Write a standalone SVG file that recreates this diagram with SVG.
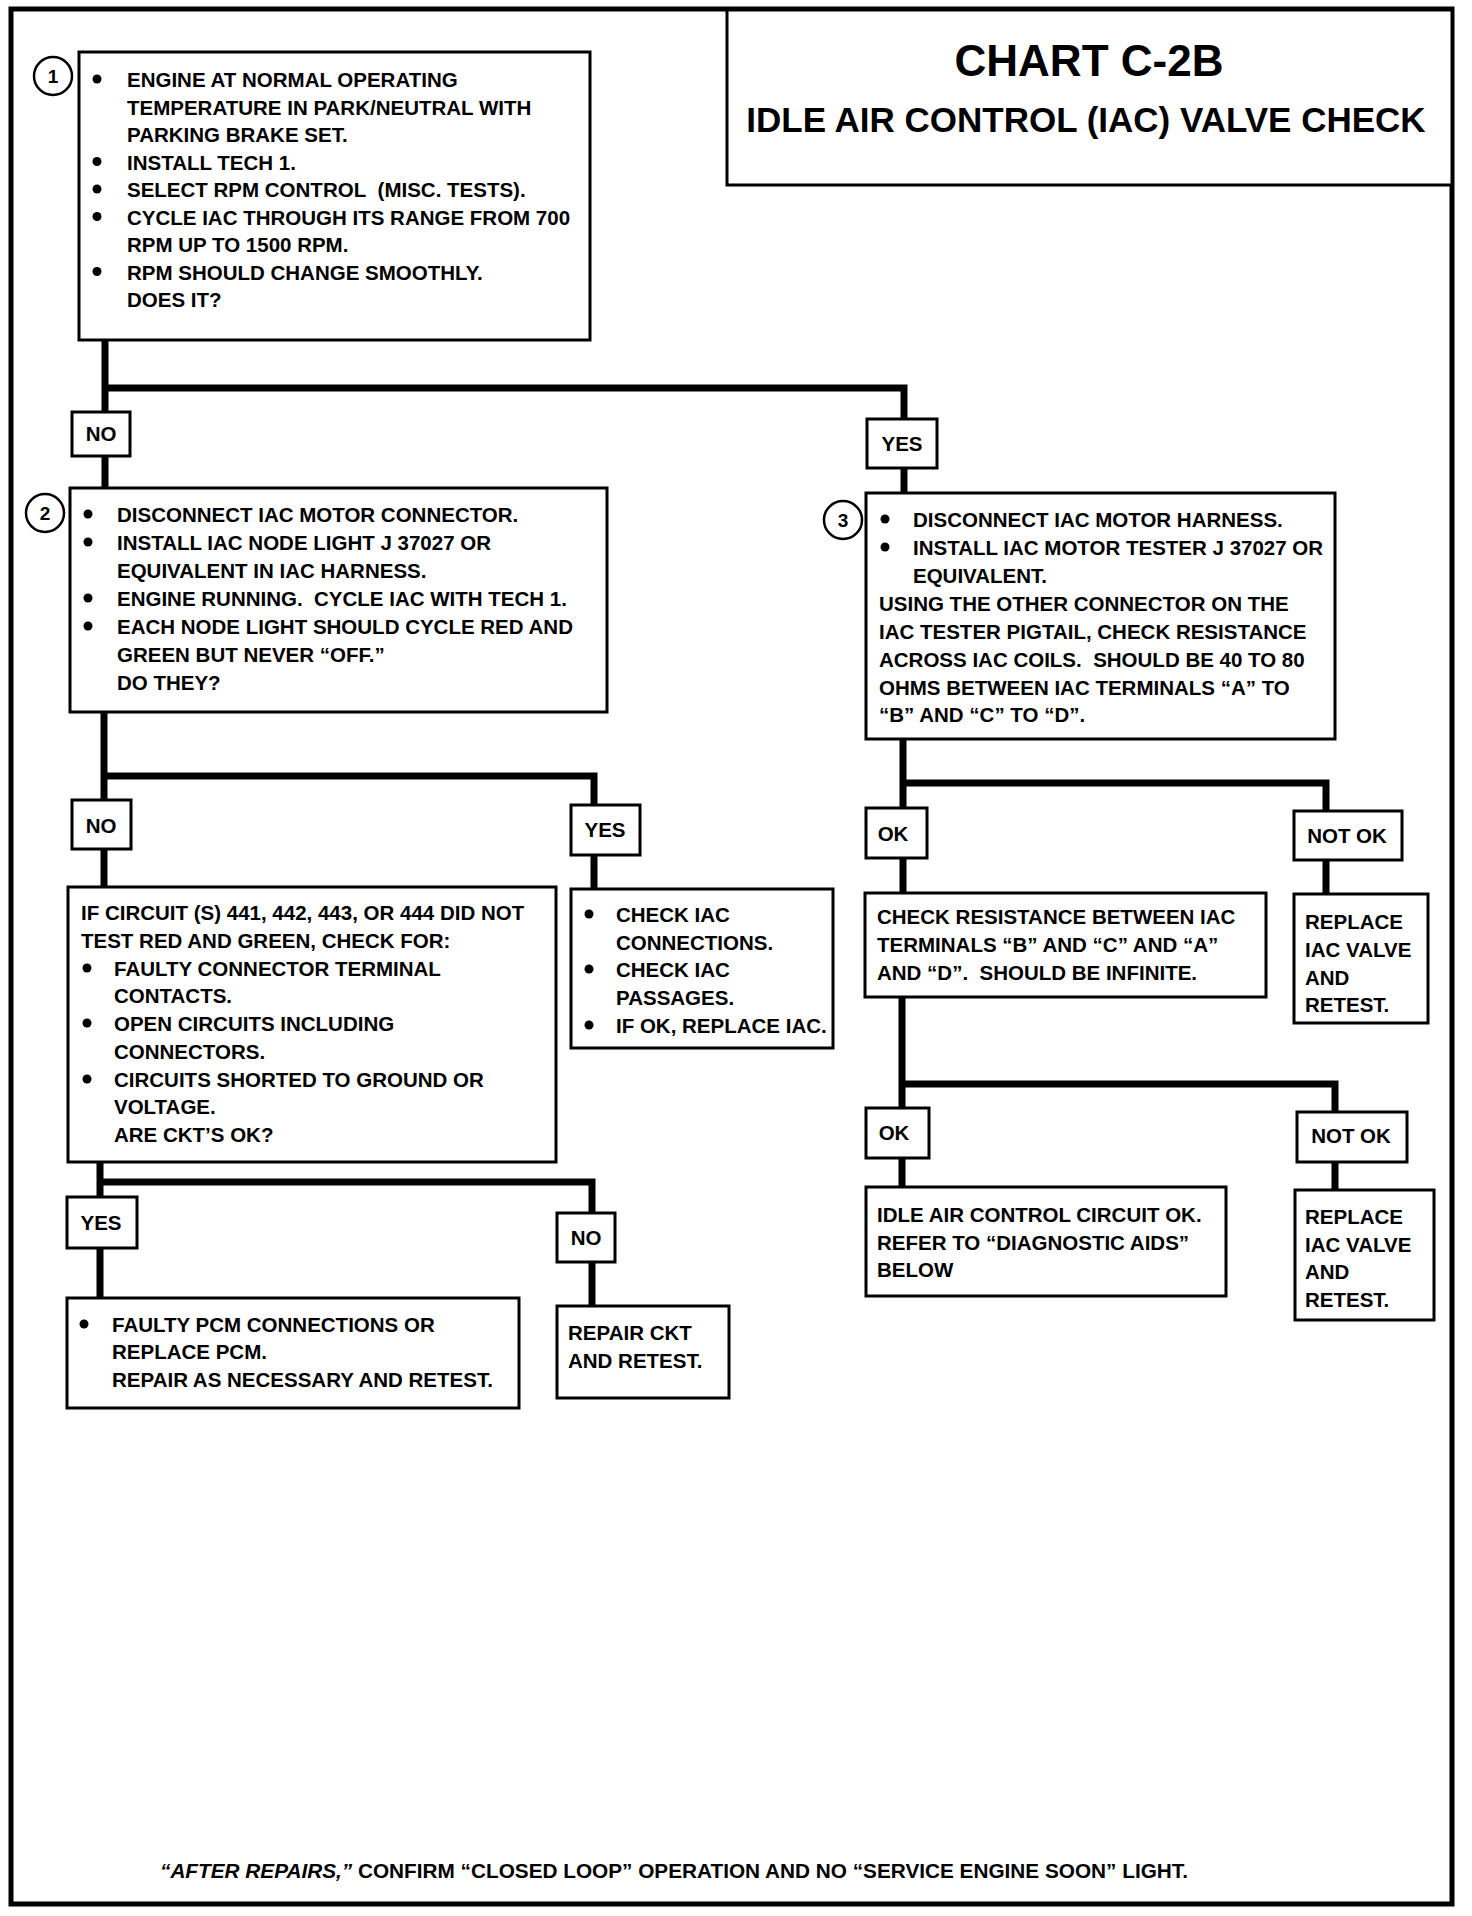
<svg xmlns="http://www.w3.org/2000/svg" width="1472" height="1916" viewBox="0 0 1472 1916">
<style>
text{font-family:"Liberation Sans",Arial,sans-serif;font-weight:bold;fill:#000}
.t{font-size:20.5px}
.lb{font-size:20.5px;text-anchor:middle}
.box{fill:#fff;stroke:#000;stroke-width:3}
.conn{fill:none;stroke:#000;stroke-width:7}
.num{font-size:19px;text-anchor:middle}
.circ{fill:#fff;stroke:#000;stroke-width:2.5}
.b{fill:#000}
</style>
<rect width="1472" height="1916" fill="#fff"/>
<rect id="frame" x="11" y="9" width="1441" height="1895" fill="none" stroke="#000" stroke-width="5"/>

<g id="title">
<rect x="727" y="10" width="725" height="175" fill="#fff" stroke="#000" stroke-width="3"/>
<text x="1089" y="76" font-size="44" text-anchor="middle">CHART C-2B</text>
<text x="1086" y="132" font-size="35" text-anchor="middle">IDLE AIR CONTROL (IAC) VALVE CHECK</text>
</g>

<g id="connectors">
<path class="conn" d="M105,340 V488"/>
<path class="conn" d="M105,388 H904 V493"/>
<path class="conn" d="M104,712 V887"/>
<path class="conn" d="M104,776 H594 V889"/>
<path class="conn" d="M100,1162 V1298"/>
<path class="conn" d="M100,1182 H592 V1306"/>
<path class="conn" d="M903,739 V893"/>
<path class="conn" d="M903,783 H1326 V894"/>
<path class="conn" d="M902,997 V1187"/>
<path class="conn" d="M902,1084 H1335 V1190"/>
</g>

<g id="node1">
<circle class="circ" cx="53" cy="76" r="19"/>
<text class="num" x="53" y="83">1</text>
<rect class="box" x="79" y="52" width="511" height="288"/>
<circle class="b" cx="97" cy="79" r="4.5"/>
<circle class="b" cx="97" cy="161.5" r="4.5"/>
<circle class="b" cx="97" cy="189" r="4.5"/>
<circle class="b" cx="97" cy="216.5" r="4.5"/>
<circle class="b" cx="97" cy="271.5" r="4.5"/>
<text class="t" x="127" y="87">ENGINE AT NORMAL OPERATING</text>
<text class="t" x="127" y="114.5">TEMPERATURE IN PARK/NEUTRAL WITH</text>
<text class="t" x="127" y="142">PARKING BRAKE SET.</text>
<text class="t" x="127" y="169.5">INSTALL TECH 1.</text>
<text class="t" x="127" y="197">SELECT RPM CONTROL&#160; (MISC. TESTS).</text>
<text class="t" x="127" y="224.5">CYCLE IAC THROUGH ITS RANGE FROM 700</text>
<text class="t" x="127" y="252">RPM UP TO 1500 RPM.</text>
<text class="t" x="127" y="279.5">RPM SHOULD CHANGE SMOOTHLY.</text>
<text class="t" x="127" y="307">DOES IT?</text>
</g>

<g id="label-no-1">
<rect class="box" x="72" y="412" width="58" height="44"/>
<text class="lb" x="101" y="441">NO</text>
</g>
<g id="label-yes-1">
<rect class="box" x="867" y="419" width="70" height="49"/>
<text class="lb" x="902" y="451">YES</text>
</g>

<g id="node2">
<circle class="circ" cx="45" cy="513" r="19"/>
<text class="num" x="45" y="520">2</text>
<rect class="box" x="70" y="488" width="537" height="224"/>
<circle class="b" cx="88" cy="514" r="4.5"/>
<circle class="b" cx="88" cy="542" r="4.5"/>
<circle class="b" cx="88" cy="598" r="4.5"/>
<circle class="b" cx="88" cy="626" r="4.5"/>
<text class="t" x="117" y="522">DISCONNECT IAC MOTOR CONNECTOR.</text>
<text class="t" x="117" y="550">INSTALL IAC NODE LIGHT J 37027 OR</text>
<text class="t" x="117" y="578">EQUIVALENT IN IAC HARNESS.</text>
<text class="t" x="117" y="606">ENGINE RUNNING.&#160; CYCLE IAC WITH TECH 1.</text>
<text class="t" x="117" y="634">EACH NODE LIGHT SHOULD CYCLE RED AND</text>
<text class="t" x="117" y="662">GREEN BUT NEVER “OFF.”</text>
<text class="t" x="117" y="690">DO THEY?</text>
</g>

<g id="node3">
<circle class="circ" cx="843" cy="520" r="19"/>
<text class="num" x="843" y="527">3</text>
<rect class="box" x="866" y="493" width="469" height="246"/>
<circle class="b" cx="885" cy="519" r="4.5"/>
<circle class="b" cx="885" cy="547" r="4.5"/>
<text class="t" x="913" y="527">DISCONNECT IAC MOTOR HARNESS.</text>
<text class="t" x="913" y="555">INSTALL IAC MOTOR TESTER J 37027 OR</text>
<text class="t" x="913" y="583">EQUIVALENT.</text>
<text class="t" x="879" y="611">USING THE OTHER CONNECTOR ON THE</text>
<text class="t" x="879" y="639">IAC TESTER PIGTAIL, CHECK RESISTANCE</text>
<text class="t" x="879" y="667">ACROSS IAC COILS.&#160; SHOULD BE 40 TO 80</text>
<text class="t" x="879" y="695">OHMS BETWEEN IAC TERMINALS “A” TO</text>
<text class="t" x="879" y="722">“B” AND “C” TO “D”.</text>
</g>

<g id="label-no-2">
<rect class="box" x="72" y="800" width="59" height="49"/>
<text class="lb" x="101" y="833">NO</text>
</g>
<g id="label-yes-2">
<rect class="box" x="571" y="805" width="69" height="50"/>
<text class="lb" x="605" y="837">YES</text>
</g>
<g id="label-ok-1">
<rect class="box" x="866" y="808" width="61" height="50"/>
<text class="lb" x="893" y="841">OK</text>
</g>
<g id="label-notok-1">
<rect class="box" x="1294" y="811" width="108" height="49"/>
<text class="lb" x="1347" y="843">NOT OK</text>
</g>

<g id="node4">
<rect class="box" x="68" y="887" width="488" height="275"/>
<circle class="b" cx="87" cy="968" r="4.5"/>
<circle class="b" cx="87" cy="1023" r="4.5"/>
<circle class="b" cx="87" cy="1079" r="4.5"/>
<text class="t" x="81" y="920">IF CIRCUIT (S) 441, 442, 443, OR 444 DID NOT</text>
<text class="t" x="81" y="948">TEST RED AND GREEN, CHECK FOR:</text>
<text class="t" x="114" y="976">FAULTY CONNECTOR TERMINAL</text>
<text class="t" x="114" y="1003">CONTACTS.</text>
<text class="t" x="114" y="1031">OPEN CIRCUITS INCLUDING</text>
<text class="t" x="114" y="1059">CONNECTORS.</text>
<text class="t" x="114" y="1087">CIRCUITS SHORTED TO GROUND OR</text>
<text class="t" x="114" y="1114">VOLTAGE.</text>
<text class="t" x="114" y="1142">ARE CKT’S OK?</text>
</g>

<g id="node5">
<rect class="box" x="571" y="889" width="262" height="159"/>
<circle class="b" cx="589" cy="914" r="4.5"/>
<circle class="b" cx="589" cy="969" r="4.5"/>
<circle class="b" cx="589" cy="1025" r="4.5"/>
<text class="t" x="616" y="922">CHECK IAC</text>
<text class="t" x="616" y="950">CONNECTIONS.</text>
<text class="t" x="616" y="977">CHECK IAC</text>
<text class="t" x="616" y="1005">PASSAGES.</text>
<text class="t" x="616" y="1033">IF OK, REPLACE IAC.</text>
</g>

<g id="node8">
<rect class="box" x="865" y="893" width="401" height="104"/>
<text class="t" x="877" y="924">CHECK RESISTANCE BETWEEN IAC</text>
<text class="t" x="877" y="952">TERMINALS “B” AND “C” AND “A”</text>
<text class="t" x="877" y="980">AND “D”.&#160; SHOULD BE INFINITE.</text>
</g>

<g id="node9">
<rect class="box" x="1294" y="894" width="134" height="129"/>
<text class="t" x="1305" y="929">REPLACE</text>
<text class="t" x="1305" y="957">IAC VALVE</text>
<text class="t" x="1305" y="985">AND</text>
<text class="t" x="1305" y="1012">RETEST.</text>
</g>

<g id="label-ok-2">
<rect class="box" x="866" y="1108" width="63" height="50"/>
<text class="lb" x="894" y="1140">OK</text>
</g>
<g id="label-notok-2">
<rect class="box" x="1297" y="1112" width="110" height="50"/>
<text class="lb" x="1351" y="1143">NOT OK</text>
</g>
<g id="label-yes-3">
<rect class="box" x="67" y="1197" width="70" height="51"/>
<text class="lb" x="101" y="1230">YES</text>
</g>
<g id="label-no-3">
<rect class="box" x="557" y="1213" width="58" height="49"/>
<text class="lb" x="586" y="1245">NO</text>
</g>

<g id="node10">
<rect class="box" x="866" y="1187" width="360" height="109"/>
<text class="t" x="877" y="1222">IDLE AIR CONTROL CIRCUIT OK.</text>
<text class="t" x="877" y="1250">REFER TO “DIAGNOSTIC AIDS”</text>
<text class="t" x="877" y="1277">BELOW</text>
</g>

<g id="node11">
<rect class="box" x="1295" y="1190" width="139" height="130"/>
<text class="t" x="1305" y="1224">REPLACE</text>
<text class="t" x="1305" y="1252">IAC VALVE</text>
<text class="t" x="1305" y="1279">AND</text>
<text class="t" x="1305" y="1307">RETEST.</text>
</g>

<g id="node6">
<rect class="box" x="67" y="1298" width="452" height="110"/>
<circle class="b" cx="84" cy="1324" r="4.5"/>
<text class="t" x="112" y="1332">FAULTY PCM CONNECTIONS OR</text>
<text class="t" x="112" y="1359">REPLACE PCM.</text>
<text class="t" x="112" y="1387">REPAIR AS NECESSARY AND RETEST.</text>
</g>

<g id="node7">
<rect class="box" x="557" y="1306" width="172" height="92"/>
<text class="t" x="568" y="1340">REPAIR CKT</text>
<text class="t" x="568" y="1368">AND RETEST.</text>
</g>

<g id="footer">
<text x="160" y="1878" font-size="20.5" textLength="1028" lengthAdjust="spacingAndGlyphs"><tspan font-style="italic">“AFTER REPAIRS,”</tspan> CONFIRM “CLOSED LOOP” OPERATION AND NO “SERVICE ENGINE SOON” LIGHT.</text>
</g>
</svg>
